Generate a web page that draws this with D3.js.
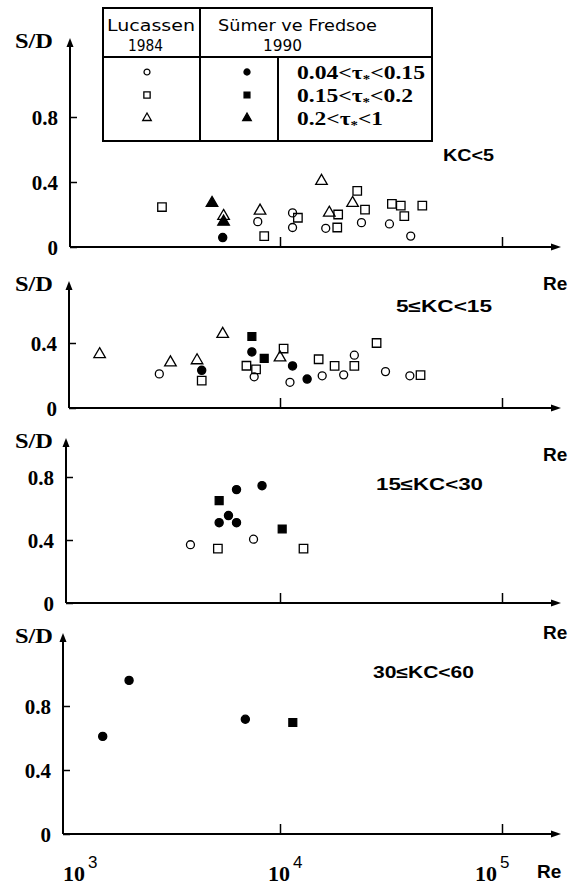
<!DOCTYPE html>
<html><head><meta charset="utf-8">
<script src="https://cdn.jsdelivr.net/npm/d3@7"></script>
<style>body{margin:0;background:#fff}</style>
</head><body><svg id="c" width="570" height="889"></svg>
<script>
// ---------------- DATA ----------------
// marker types: o = open (Lucassen 1984), f = filled (Sümer ve Fredsoe 1990)
// c = 0.04<τ*<0.15, s = 0.15<τ*<0.2, t = 0.2<τ*<1
const kc5Re   = [2940,4940,5570,5570,5520,8130,7940,8490,11390,12040,11390,15380,16670,18280,16070,18110,21230,22280,24150,23280,31920,35000,36300,31120,43750,38800];
const kc5SD   = [0.246,0.27,0.19,0.155,0.058,0.223,0.156,0.067,0.21,0.18,0.12,0.406,0.21,0.20,0.115,0.12,0.27,0.345,0.23,0.15,0.265,0.255,0.19,0.142,0.255,0.067];
const kc5Type = ["os","ft","ot","ft","fc","ot","oc","os","oc","os","oc","ot","ot","os","oc","os","ot","os","os","oc","os","os","os","oc","os","oc"];

const kc15Re   = [1540,2860,3210,4230,4440,4440,5520,7470,7470,8490,7060,7800,7650,10380,10000,11390,11090,13250,14930,15490,17620,19360,21620,21620,27230,29870,38450,42960];
const kc15SD   = [0.33,0.21,0.28,0.293,0.232,0.168,0.455,0.44,0.345,0.305,0.26,0.238,0.192,0.366,0.31,0.259,0.158,0.178,0.30,0.198,0.259,0.204,0.259,0.325,0.40,0.224,0.198,0.202];
const kc15Type = ["ot","oc","ot","ot","fc","os","ot","fs","fc","fs","os","os","oc","os","ot","fc","oc","fc","os","oc","os","oc","os","oc","os","oc","oc","os"];

const kc30Re   = [3950,5250,5320,6370,8300,5320,5860,6370,7600,10230,12760];
const kc30SD   = [0.37,0.345,0.65,0.72,0.745,0.51,0.555,0.51,0.405,0.47,0.345];
const kc30Type = ["oc","os","fs","fc","fc","fc","fc","fc","oc","fs","os"];

const kc60Re   = [1590,2090,6980,11420];
const kc60SD   = [0.61,0.96,0.717,0.697];
const kc60Type = ["fc","fc","fc","fs"];

const panelLabels = ["KC<5","5≤KC<15","15≤KC<30","30≤KC<60"];
const yTickValues = [[0,0.4,0.8],[0,0.4],[0,0.4,0.8],[0,0.4,0.8]];
const yTickLabels = {0:"0",0.4:"0.4",0.8:"0.8"};
const xTickValues = [1e4,1e5];
const xLabelValues = [1e3,1e4,1e5];
const xLabelExps = ["3","4","5"];
const legendAuthors = ["Lucassen","Sümer ve Fredsoe"];
const legendYears = ["1984","1990"];
const legendOpen = ["oc","os","ot"];
const legendFilled = ["fc","fs","ft"];
const legendLow = ["0.04","0.15","0.2"];
const legendHigh = ["0.15","0.2","1"];
const axisTitleY = "S/D";
const axisTitleX = "Re";

// ---------------- LAYOUT ----------------
const svg = d3.select("#c");
svg.append("rect").attr("width",570).attr("height",889).attr("fill","#fff");
const SERIF = "'Liberation Serif','Times New Roman',serif";
const SANS = "'Liberation Sans',Arial,sans-serif";

const x = d3.scaleLog().domain([1e3,1e5]).range([58,502]);
const xEnd = 561;

const panelData = [
  {re:kc5Re, sd:kc5SD, type:kc5Type},
  {re:kc15Re, sd:kc15SD, type:kc15Type},
  {re:kc30Re, sd:kc30SD, type:kc30Type},
  {re:kc60Re, sd:kc60SD, type:kc60Type}
];
const layout = [
  {axisX:70, yr:[247,117], top:38, label:[443,155,51], re:283},
  {axisX:69, yr:[408,278], top:281, label:[396,306,96], re:454},
  {axisX:66, yr:[603,477], top:438, label:[376,484,107], re:632},
  {axisX:63, yr:[834,706], top:633, label:[373,672,101], re:null}
];

function symPath(type, big){
  const shape = type[1]==="c"?d3.symbolCircle:(type[1]==="s"?d3.symbolSquare:d3.symbolTriangle);
  let size = type[1]==="c"?50:(type[1]==="s"?72:58);
  if(type[0]==="f") size = type[1]==="c"?52:(type[1]==="s"?62:58);
  if(!big) size *= 0.55;
  return d3.symbol().type(shape).size(size)();
}
function styleSym(sel){
  sel.attr("fill",d=>d.t[0]==="f"?"#000":"none")
     .attr("stroke","#000").attr("stroke-width",1.3);
}

layout.forEach((L,i)=>{
  const g = svg.append("g");
  const y = d3.scaleLinear().domain([0,0.8]).range(L.yr);
  const y0 = y(0);
  // axes lines
  g.append("line").attr("x1",L.axisX).attr("x2",L.axisX).attr("y1",y0).attr("y2",L.top+6)
    .attr("stroke","#000").attr("stroke-width",2);
  g.append("path").attr("d",`M${L.axisX},${L.top} L${L.axisX-3.5},${L.top+9} L${L.axisX+3.5},${L.top+9} Z`).attr("fill","#000");
  g.append("line").attr("x1",L.axisX).attr("x2",xEnd-6).attr("y1",y0).attr("y2",y0)
    .attr("stroke","#000").attr("stroke-width",2);
  g.append("path").attr("d",`M${xEnd},${y0} L${xEnd-10},${y0-3.5} L${xEnd-10},${y0+3.5} Z`).attr("fill","#000");

  // y axis ticks (inward) with d3 axis
  const ya = d3.axisLeft(y).tickValues(yTickValues[i]).tickSize(-7).tickSizeOuter(0).tickPadding(12)
    .tickFormat(d=>yTickLabels[d]);
  const yg = g.append("g").attr("transform",`translate(${L.axisX},0)`).call(ya);
  yg.select(".domain").remove();
  yg.selectAll(".tick line").attr("stroke","#000").attr("stroke-width",1.5);
  yg.selectAll(".tick text").attr("font-family",SERIF).attr("font-weight","bold").attr("font-size",21)
    .attr("fill","#000").attr("dy","0.36em");

  // x axis ticks
  const xa = d3.axisBottom(x).tickValues(xTickValues).tickSize(-10).tickSizeOuter(0).tickFormat("");
  const xg = g.append("g").attr("transform",`translate(0,${y0})`).call(xa);
  xg.select(".domain").remove();
  xg.selectAll(".tick line").attr("stroke","#000").attr("stroke-width",1.5);

  // S/D title
  g.append("text").attr("x",15).attr("y",L.top+10).attr("font-family",SERIF).attr("font-weight","bold")
    .attr("font-size",20).attr("textLength",38).attr("lengthAdjust","spacingAndGlyphs").text(axisTitleY);

  // panel label
  g.append("text").attr("x",L.label[0]).attr("y",L.label[1]+6).attr("font-family",SANS).attr("font-weight","bold")
    .attr("font-size",16).attr("textLength",L.label[2]).attr("lengthAdjust","spacingAndGlyphs").text(panelLabels[i]);

  // Re label under this axis (right side)
  if(L.re!==null){
    g.append("text").attr("x",543).attr("y",L.re+7).attr("font-family",SANS).attr("font-weight","bold")
      .attr("font-size",19).text(axisTitleX);
  }

  // points
  const D = panelData[i];
  const pts = D.re.map((r,k)=>({re:r, sd:D.sd[k], t:D.type[k]}));
  g.selectAll("path.pt").data(pts).join("path").attr("class","pt")
    .attr("transform",d=>`translate(${x(d.re)},${y(d.sd)})`)
    .attr("d",d=>symPath(d.t,true)).call(styleSym);
});

// bottom x labels
const labOff = [ {dx:5}, {dx:-12}, {dx:-27} ];
xLabelValues.forEach((v,k)=>{
  const t = svg.append("text").attr("x",x(v)+labOff[k].dx).attr("y",881)
    .attr("font-family",SERIF).attr("font-weight","bold").attr("font-size",22);
  t.append("tspan").text("10");
  t.append("tspan").attr("dx",3).attr("dy",-13).attr("font-family",SANS).attr("font-weight","normal")
    .attr("font-size",17).text(xLabelExps[k]);
});
svg.append("text").attr("x",537).attr("y",878).attr("font-family",SANS).attr("font-weight","bold")
  .attr("font-size",19).text(axisTitleX);

// ---------------- LEGEND ----------------
const lg = svg.append("g");
lg.append("rect").attr("x",103).attr("y",8).attr("width",329).attr("height",133)
  .attr("fill","none").attr("stroke","#000").attr("stroke-width",2);
lg.append("line").attr("x1",103).attr("x2",432).attr("y1",57).attr("y2",57).attr("stroke","#000").attr("stroke-width",2);
lg.append("line").attr("x1",200).attr("x2",200).attr("y1",8).attr("y2",141).attr("stroke","#000").attr("stroke-width",2);
lg.append("line").attr("x1",278).attr("x2",278).attr("y1",57).attr("y2",141).attr("stroke","#000").attr("stroke-width",2);

const HDR = "'DejaVu Sans',sans-serif";
lg.append("text").attr("x",107).attr("y",31).attr("font-family",HDR).attr("font-size",16)
  .attr("textLength",88).attr("lengthAdjust","spacingAndGlyphs").text(legendAuthors[0]);
lg.append("text").attr("x",128).attr("y",51).attr("font-family",HDR).attr("font-size",16)
  .attr("textLength",35).attr("lengthAdjust","spacingAndGlyphs").text(legendYears[0]);
lg.append("text").attr("x",218).attr("y",31).attr("font-family",HDR).attr("font-size",16)
  .attr("textLength",159).attr("lengthAdjust","spacingAndGlyphs").text(legendAuthors[1]);
lg.append("text").attr("x",263).attr("y",51).attr("font-family",HDR).attr("font-size",16)
  .attr("textLength",39).attr("lengthAdjust","spacingAndGlyphs").text(legendYears[1]);

const rowY = [72,95,118];
const rowLen = [128,116,86];
legendOpen.forEach((t,k)=>{
  lg.append("path").datum({t}).attr("transform",`translate(147,${rowY[k]})`).attr("d",symPath(t,false)).call(styleSym);
});
legendFilled.forEach((t,k)=>{
  lg.append("path").datum({t}).attr("transform",`translate(247,${rowY[k]})`).attr("d",symPath(t,false)).call(styleSym);
});
legendLow.forEach((lo,k)=>{
  const t = lg.append("text").attr("x",297).attr("y",rowY[k]+7).attr("font-family",SERIF)
    .attr("font-weight","bold").attr("font-size",19)
    .attr("textLength",rowLen[k]).attr("lengthAdjust","spacingAndGlyphs");
  t.append("tspan").text(lo+"<τ");
  t.append("tspan").attr("font-size",12).attr("dy",4).text("*");
  t.append("tspan").attr("dy",-4).text("<"+legendHigh[k]);
});
</script></body></html>
